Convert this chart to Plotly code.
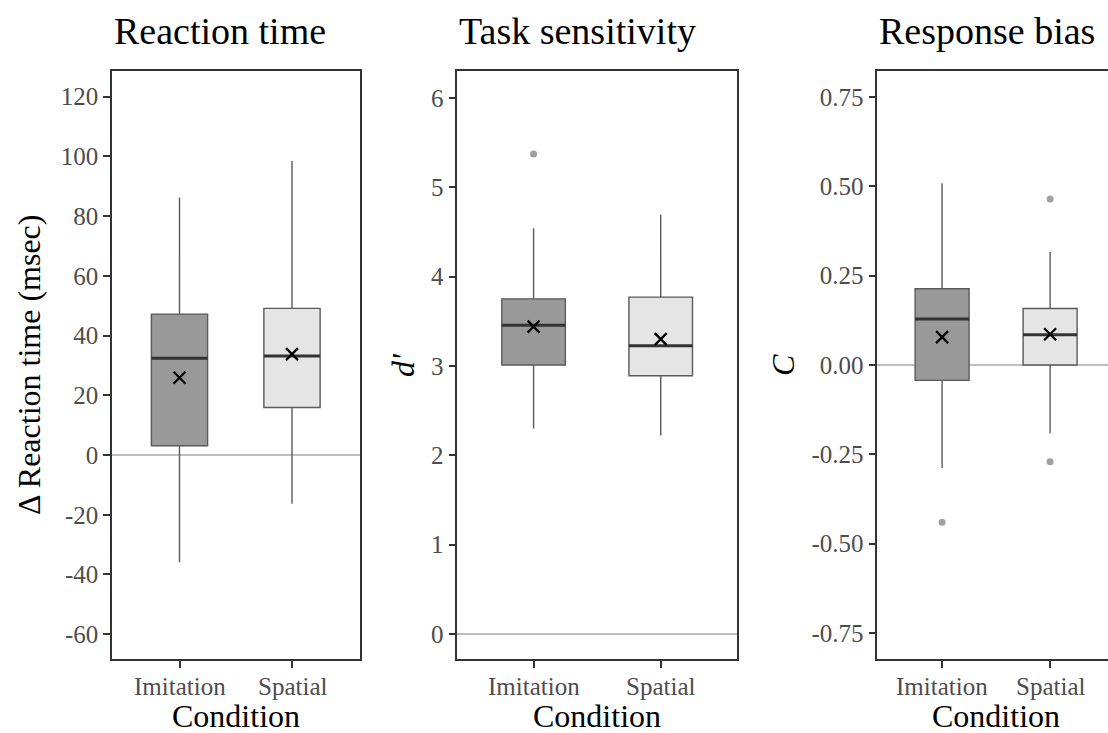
import plotly.graph_objects as go

# ---- data -------------------------------------------------------------
conditions = ["Imitation", "Spatial"]
positions = [1, 2]
box_fills = ["#999999", "#E5E5E5"]

# Reaction time difference (msec)
rt_q1 = [3.1, 15.9]
rt_median = [32.4, 33.2]
rt_q3 = [47.2, 49.1]
rt_low = [-35.9, -16.3]
rt_high = [86.2, 98.5]
rt_mean = [25.9, 33.8]
rt_outliers = [[], []]

# Sensitivity d'
dp_q1 = [3.01, 2.89]
dp_median = [3.456, 3.225]
dp_q3 = [3.75, 3.77]
dp_low = [2.30, 2.22]
dp_high = [4.54, 4.69]
dp_mean = [3.44, 3.30]
dp_outliers = [[5.37], []]

# Response bias C
c_q1 = [-0.043, 0.0]
c_median = [0.129, 0.085]
c_q3 = [0.2135, 0.158]
c_low = [-0.288, -0.191]
c_high = [0.509, 0.316]
c_mean = [0.078, 0.086]
c_outliers = [[-0.44], [0.465, -0.271]]

rt_ticks = [-60, -40, -20, 0, 20, 40, 60, 80, 100, 120]
rt_ticktext = ["-60", "-40", "-20", "0", "20", "40", "60", "80", "100", "120"]
dp_ticks = [0, 1, 2, 3, 4, 5, 6]
dp_ticktext = ["0", "1", "2", "3", "4", "5", "6"]
c_ticks = [-0.75, -0.5, -0.25, 0, 0.25, 0.5, 0.75]
c_ticktext = ["-0.75", "-0.50", "-0.25", "0.00", "0.25", "0.50", "0.75"]

titles = ["Reaction time", "Task sensitivity", "Response bias"]
ytitles = ["\u0394 Reaction time (msec)", "<i>d'</i>", "<i>C</i>"]

# ---- layout geometry ---------------------------------------------------
W, H = 1108, 733
FONT = "Liberation Serif"
BOX_W = 0.5
panel_px = [(112, 359.5), (457.3, 737), (877.3, 1108)]
x_ranges = [[0.4, 2.6], [0.4, 2.6], [0.4, 0.4 + (1108 - 877.3) / 108.0]]
y_ranges = [[-68.3, 128.6], [-0.28, 6.30], [-0.823, 0.823]]
y_dom = [1 - 659 / H, 1 - 71 / H]
ytitle_px = [29, 403, 783]

panels = [
    (rt_q1, rt_median, rt_q3, rt_low, rt_high, rt_mean, rt_outliers, rt_ticks, rt_ticktext),
    (dp_q1, dp_median, dp_q3, dp_low, dp_high, dp_mean, dp_outliers, dp_ticks, dp_ticktext),
    (c_q1, c_median, c_q3, c_low, c_high, c_mean, c_outliers, c_ticks, c_ticktext),
]

fig = go.Figure()
annotations = []

for p, (q1, med, q3, lo, hi, mean, outl, tv, tt) in enumerate(panels):
    xa = "x" if p == 0 else f"x{p + 1}"
    ya = "y" if p == 0 else f"y{p + 1}"
    for i in range(len(conditions)):
        fig.add_trace(go.Box(
            x=[positions[i]], q1=[q1[i]], median=[med[i]], q3=[q3[i]],
            lowerfence=[lo[i]], upperfence=[hi[i]],
            width=BOX_W, whiskerwidth=0,
            fillcolor=box_fills[i],
            line=dict(color="#5a5a5a", width=1.4),
            boxpoints=False, hoverinfo="skip", showlegend=False,
            xaxis=xa, yaxis=ya,
        ))
        # thicker median bar
        fig.add_trace(go.Scatter(
            x=[positions[i] - BOX_W / 2, positions[i] + BOX_W / 2],
            y=[med[i], med[i]], mode="lines",
            line=dict(color="#333333", width=3),
            hoverinfo="skip", showlegend=False, xaxis=xa, yaxis=ya,
        ))
        if outl[i]:
            fig.add_trace(go.Scatter(
                x=[positions[i]] * len(outl[i]), y=outl[i], mode="markers",
                marker=dict(color="#a0a0a0", size=7),
                hoverinfo="skip", showlegend=False, xaxis=xa, yaxis=ya,
            ))
        # category label under the axis
        annotations.append(dict(
            text=conditions[i], xref=xa, yref="paper",
            x=positions[i], y=1 - 686 / H, xanchor="center", yanchor="middle",
            showarrow=False, font=dict(family=FONT, size=25, color="#4D4D4D"),
        ))
    # group means
    fig.add_trace(go.Scatter(
        x=positions, y=mean, mode="markers",
        marker=dict(symbol="x-thin-open", size=12,
                    line=dict(color="black", width=2.3), color="black"),
        hoverinfo="skip", showlegend=False, xaxis=xa, yaxis=ya,
    ))

    x0, x1 = panel_px[p]
    axis_common = dict(
        showline=True, linecolor="#333333", linewidth=1.5,
        ticks="outside", ticklen=7, tickwidth=2, tickcolor="#333333",
        showgrid=False, tickfont=dict(family=FONT, size=25, color="#4D4D4D"),
    )
    fig.update_layout(**{
        ("xaxis" if p == 0 else f"xaxis{p + 1}"): dict(
            domain=[x0 / W, x1 / W], range=x_ranges[p],
            tickvals=positions, showticklabels=False,
            mirror=True, zeroline=False, anchor=ya, **axis_common,
        ),
        ("yaxis" if p == 0 else f"yaxis{p + 1}"): dict(
            domain=y_dom, range=y_ranges[p], tickvals=tv, ticktext=tt,
            mirror=(p != 2), zeroline=True, zerolinecolor="#BEBEBE",
            zerolinewidth=2, anchor=xa, **axis_common,
        ),
    })

    annotations.append(dict(
        text=titles[p], xref="paper", yref="paper",
        x=x0 / W, y=1 - 31 / H, xanchor="left", yanchor="middle",
        showarrow=False, font=dict(family=FONT, size=38, color="black"),
    ))
    annotations.append(dict(
        text="Condition", xref="paper", yref="paper",
        x=(x0 + (x1 if p < 2 else 1115)) / 2 / W, y=1 - 716 / H,
        xanchor="center", yanchor="middle",
        showarrow=False, font=dict(family=FONT, size=32, color="black"),
    ))
    annotations.append(dict(
        text=ytitles[p], xref="paper", yref="paper",
        x=ytitle_px[p] / W, y=1 - 365 / H, textangle=-90,
        xanchor="center", yanchor="middle",
        showarrow=False, font=dict(family=FONT, size=32, color="black"),
    ))

fig.update_layout(
    width=W, height=H, margin=dict(l=0, r=0, t=0, b=0),
    paper_bgcolor="white", plot_bgcolor="white",
    annotations=annotations, showlegend=False,
)

fig.write_html("out.html")
